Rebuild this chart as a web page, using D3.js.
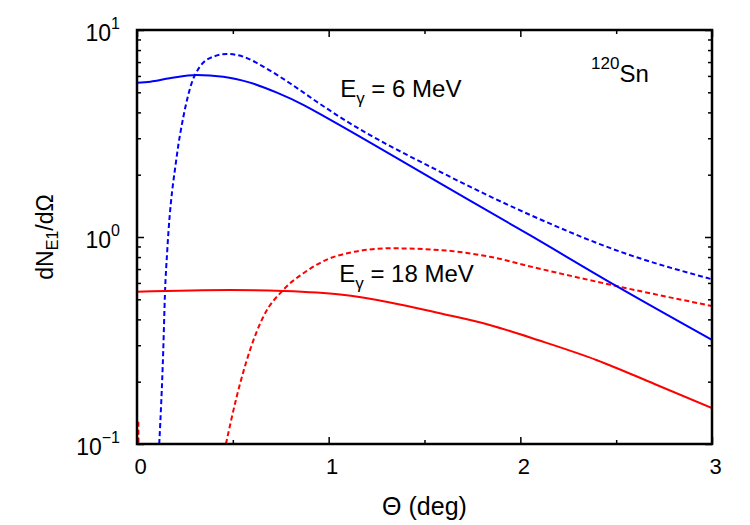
<!DOCTYPE html>
<html>
<head>
<meta charset="utf-8">
<script src="https://cdn.jsdelivr.net/npm/d3@7"></script>
<style>
  body { margin: 0; background: #fff; }
  text { font-family: "Liberation Sans", Arial, sans-serif; fill: #000; }
</style>
</head>
<body>
<div id="chart"></div>
<script>
// angle theta (deg) vs dN_E1/dOmega
const blueSolid = [[0, 5.56], [0.07, 5.63], [0.17, 5.84], [0.31, 6.06], [0.45, 5.95], [0.59, 5.57],
  [0.73, 4.98], [0.87, 4.34], [1.0, 3.72], [1.58, 1.82], [2.05, 1.02], [2.5, 0.58], [3.0, 0.318]];
const blueDashed = [[0.116, 0.1], [0.137, 0.284], [0.146, 0.537], [0.158, 0.865], [0.207, 2.44], [0.242, 3.81],
  [0.285, 5.53], [0.328, 6.65], [0.398, 7.43], [0.468, 7.66], [0.555, 7.43], [0.659, 6.65], [0.798, 5.53],
  [0.938, 4.5], [1.06, 3.79], [1.58, 2.07], [2.05, 1.28], [2.52, 0.85], [3.0, 0.625]];
const redSolid = [[0, 0.544], [0.485, 0.554], [0.763, 0.548], [1.06, 0.527], [1.32, 0.483], [1.58, 0.428],
  [1.84, 0.376], [2.1, 0.316], [2.4, 0.254], [2.7, 0.195], [3.0, 0.149]];
const redDashed = [[0.464, 0.1], [0.52, 0.169], [0.59, 0.285], [0.659, 0.412], [0.763, 0.555], [0.868, 0.668],
  [1.007, 0.789], [1.11, 0.84], [1.32, 0.882], [1.58, 0.865], [1.84, 0.803], [2.08, 0.71], [2.5, 0.58], [3.0, 0.464]];
const redDashedEdge = [[0.007, 0.128], [0.008, 0.1]];

const xTicks = [0, 1, 2, 3];
const xMinorTicks = [0.5, 1.5, 2.5];
const yTicks = [0.1, 1, 10];
const yTickExp = ["\u22121", "0", "1"];
const yMinorTicks = [2, 3, 4, 5, 6, 7, 8, 9].flatMap(m => [m * 0.1, m]);

const labels = [
  { text: "E", sub: "\u03b3", rest: " = 6 MeV", x: 1.06, y: 4.75 },
  { text: "E", sub: "\u03b3", rest: " = 18 MeV", x: 1.055, y: 0.605 }
];

const W = 750, H = 525;
const margin = { top: 30, right: 38, bottom: 81, left: 137 };
const innerW = W - margin.left - margin.right;
const innerH = H - margin.top - margin.bottom;

const x = d3.scaleLinear().domain([0, 3]).range([0, innerW]);
const y = d3.scaleLog().domain([0.1, 10]).range([innerH, 0]);

const svg = d3.select("#chart").append("svg")
  .attr("width", W).attr("height", H);

const g = svg.append("g").attr("transform", `translate(${margin.left},${margin.top})`);

g.append("clipPath").attr("id", "clip")
  .append("rect").attr("width", innerW).attr("height", innerH);

const line = d3.line()
  .x(d => x(d[0]))
  .y(d => y(d[1]))
  .curve(d3.curveMonotoneX);

const series = [
  { data: blueDashed, color: "#0000ff", dash: "5,3" },
  { data: redDashed, color: "#ff0000", dash: "5,3" },
  { data: redDashedEdge, color: "#ff0000", dash: "5,3" },
  { data: blueSolid, color: "#0000ff", dash: null },
  { data: redSolid, color: "#ff0000", dash: null }
];

g.append("g").attr("clip-path", "url(#clip)")
  .selectAll("path").data(series).join("path")
  .attr("d", d => line(d.data))
  .attr("fill", "none")
  .attr("stroke", d => d.color)
  .attr("stroke-width", 2)
  .attr("stroke-dasharray", d => d.dash);

// axes: ticks inside the frame
function styleAxis(sel) {
  sel.select(".domain").remove();
  sel.selectAll(".tick line").attr("stroke", "#000").attr("stroke-width", 1.5);
}

g.append("g").attr("transform", `translate(0,${innerH})`)
  .call(d3.axisBottom(x).tickValues(xTicks).tickSize(-7).tickFormat(d3.format("d")).tickPadding(14))
  .call(styleAxis)
  .call(a => a.selectAll("text").attr("font-size", 22).attr("dx", 3));
g.append("g").attr("transform", `translate(0,${innerH})`)
  .call(d3.axisBottom(x).tickValues(xMinorTicks).tickSize(-4).tickFormat(""))
  .call(styleAxis);
g.append("g")
  .call(d3.axisTop(x).tickValues(xTicks).tickSize(-7).tickFormat(""))
  .call(styleAxis);
g.append("g")
  .call(d3.axisTop(x).tickValues(xMinorTicks).tickSize(-4).tickFormat(""))
  .call(styleAxis);

g.append("g")
  .call(d3.axisLeft(y).tickValues(yTicks).tickSize(-7).tickFormat(""))
  .call(styleAxis);
g.append("g")
  .call(d3.axisLeft(y).tickValues(yMinorTicks).tickSize(-4).tickFormat(""))
  .call(styleAxis);
g.append("g").attr("transform", `translate(${innerW},0)`)
  .call(d3.axisRight(y).tickValues(yTicks).tickSize(-7).tickFormat(""))
  .call(styleAxis);
g.append("g").attr("transform", `translate(${innerW},0)`)
  .call(d3.axisRight(y).tickValues(yMinorTicks).tickSize(-4).tickFormat(""))
  .call(styleAxis);

// y tick labels as 10^n
const yl = g.append("g").selectAll("text").data(yTicks).join("text")
  .attr("x", -17)
  .attr("y", d => y(d) + 11)
  .attr("text-anchor", "end")
  .attr("font-size", 23);
yl.append("tspan").text("10");
yl.append("tspan").attr("dy", -12).attr("font-size", 16).text((d, i) => yTickExp[i]);

// frame
g.append("rect")
  .attr("width", innerW).attr("height", innerH)
  .attr("fill", "none").attr("stroke", "#000").attr("stroke-width", 2.5);

// axis titles
svg.append("text")
  .attr("x", margin.left + innerW / 2).attr("y", 515)
  .attr("text-anchor", "middle").attr("font-size", 25)
  .text("\u0398 (deg)");

const yt = svg.append("text")
  .attr("transform", `translate(53,${margin.top + innerH / 2}) rotate(-90)`)
  .attr("text-anchor", "middle").attr("font-size", 23);
yt.append("tspan").text("dN");
yt.append("tspan").attr("dy", 5).attr("font-size", 16).text("E1");
yt.append("tspan").attr("dy", -5).text("/d\u03a9");

// curve labels
labels.forEach(l => {
  const t = g.append("text")
    .attr("x", x(l.x)).attr("y", y(l.y))
    .attr("font-size", 24);
  t.append("tspan").text(l.text);
  t.append("tspan").attr("dy", 7).attr("font-size", 17).text(l.sub);
  t.append("tspan").attr("dy", -7).text(l.rest);
});

const sn = svg.append("text").attr("x", 591).attr("y", 82).attr("font-size", 24);
sn.append("tspan").attr("dy", -13).attr("font-size", 17).text("120");
sn.append("tspan").attr("dy", 13).text("Sn");
</script>
</body>
</html>
